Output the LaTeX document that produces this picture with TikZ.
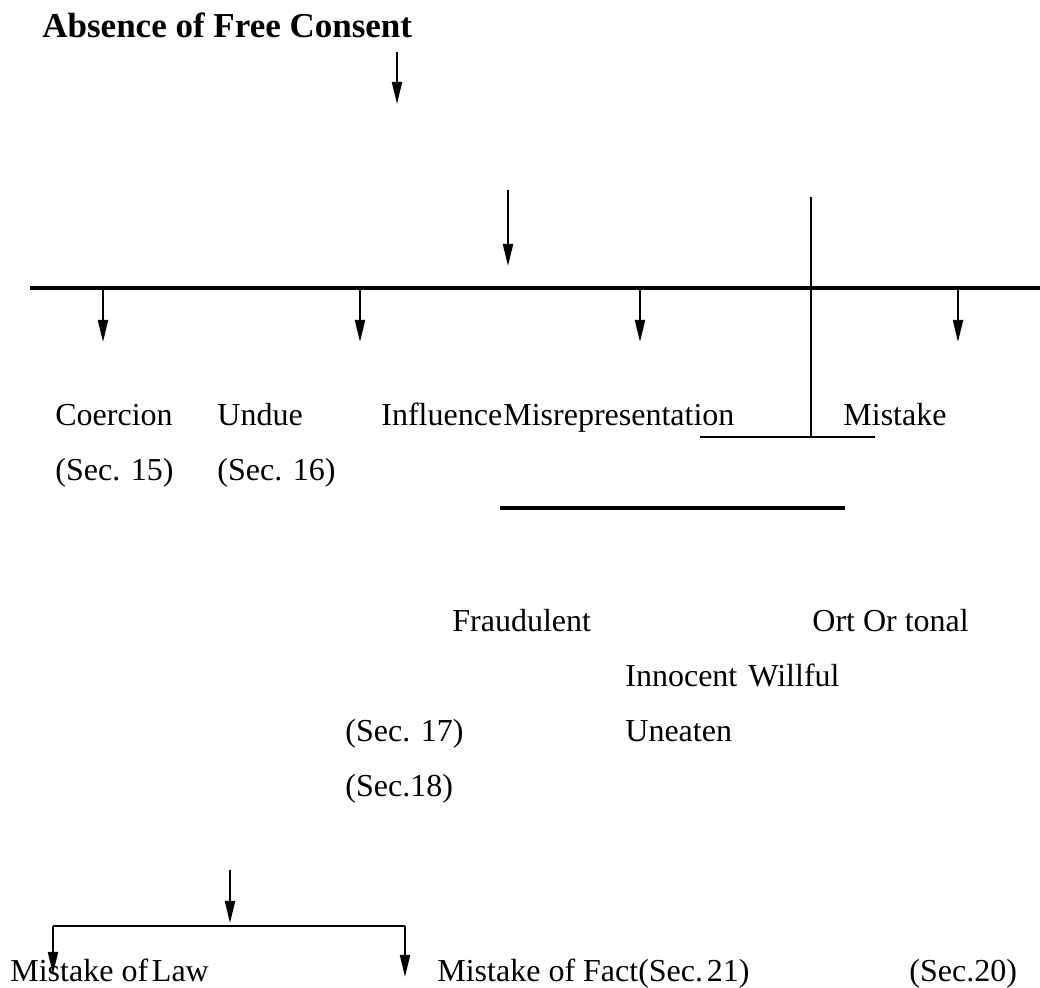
\documentclass[tikz,border=0pt]{standalone}
\usepackage{fontspec}
\setmainfont{Liberation Serif}
\usetikzlibrary{arrows.meta}
\begin{document}
\begin{tikzpicture}[x=0.5pt,y=-0.5pt,
  lbl/.style={anchor=base west,inner sep=0pt,font=\fontsize{16}{19}\selectfont},
  ttl/.style={anchor=base west,inner sep=0pt,font=\fontsize{17.5}{21}\selectfont\bfseries},
  arr/.style={line width=1pt,-{Triangle[width=5pt,length=11pt]}},
  thin/.style={line width=1pt},
  bar/.style={line width=2pt},
  midbar/.style={line width=1.3pt}]
\useasboundingbox (0,0) rectangle (1040,988);
% title
\node[ttl] (title) at (42,38) {Absence of Free Consent};
\coordinate (a1s) at (397,52); \coordinate (a1e) at (397,104);
\draw[arr] (a1s) -- (a1e);
\coordinate (a2s) at (508,190); \coordinate (a2e) at (508,266);
\draw[arr] (a2s) -- (a2e);
% main bar
\coordinate (hbl) at (30,288); \coordinate (hbr) at (1040,288);
\draw[bar] (hbl) -- (hbr);
\coordinate (vt) at (811,197); \coordinate (vb) at (811,436);
\draw[thin] (vt) -- (vb);
\foreach \i/\x in {1/103,2/360,3/640,4/958}{
  \coordinate (d\i s) at (\x,290); \coordinate (d\i e) at (\x,342);
  \draw[arr] (d\i s) -- (d\i e);
}
% first row
\node[lbl] (coer) at (55,426) {Coercion};
\node[lbl] (undue) at (217,426) {Undue};
\node[lbl] (infl) at (381,426) {Influence};
\node[lbl] (misr) at (503,426) {Misrepresentation};
\node[lbl] (mist) at (843,426) {Mistake};
\node[lbl] (s15) at (55,481) {(Sec. 15)};
\node[lbl] (s16) at (217,481) {(Sec. 16)};
\coordinate (u1l) at (700,437); \coordinate (u1r) at (875,437);
\draw[midbar] (u1l) -- (u1r);
\coordinate (u2l) at (500,508); \coordinate (u2r) at (845,508);
\draw[bar] (u2l) -- (u2r);
% middle block
\node[lbl] (fraud) at (452,632) {Fraudulent};
\node[lbl] (ort) at (812,632) {Ort Or tonal};
\node[lbl] (inno) at (625,687) {Innocent};
\node[lbl] (will) at (748,687) {Willful};
\node[lbl] (s17) at (345,742) {(Sec. 17)};
\node[lbl] (unea) at (625,742) {Uneaten};
\node[lbl] (s18) at (345,797) {(Sec.18)};
% bottom
\coordinate (b0s) at (230,870); \coordinate (b0e) at (230,923);
\draw[arr] (b0s) -- (b0e);
\coordinate (bl) at (53,926); \coordinate (br) at (405,926);
\coordinate (ble) at (53,974); \coordinate (bre) at (405,977);
\draw[arr] (bl) -- (ble);
\draw[arr] (br) -- (bre);
\draw[midbar] (bl) -- (br);
\node[lbl] (mlaw) at (10,982) {Mistake of\kern0.12em Law};
\node[lbl] (mfact) at (437,982) {Mistake of Fact(Sec.\kern0.12em 21)};
\node[lbl] (s20) at (909,982) {(Sec.20)};
\end{tikzpicture}
\end{document}
